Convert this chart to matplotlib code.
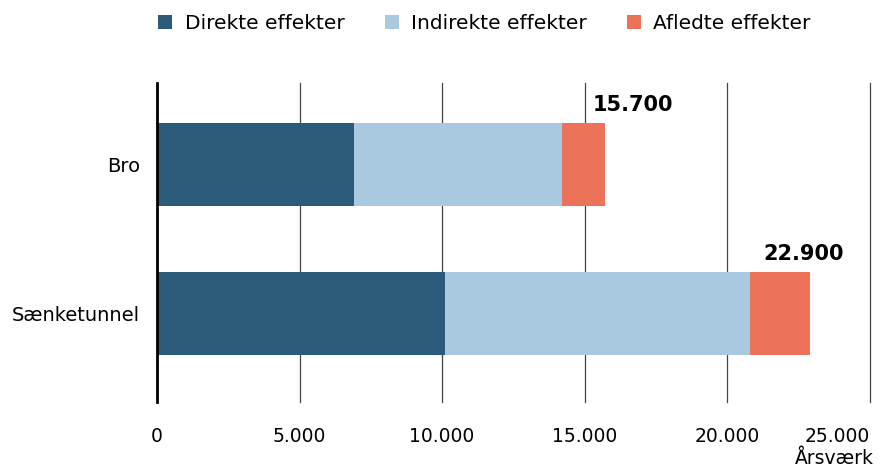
import matplotlib.pyplot as plt
from matplotlib.patches import Patch
from matplotlib.ticker import FuncFormatter

plt.rcParams['font.family'] = ['DejaVu Sans']

# Årsværk pr. løsning, fordelt på effekttype
losninger = ['Bro', 'Sænketunnel']
direkte = [6900, 10100]
indirekte = [7300, 10700]
afledte = [1500, 2100]
totaler = [15700, 22900]

serier = ['Direkte effekter', 'Indirekte effekter', 'Afledte effekter']
farver = ['#2b5a7a', '#a9c9e0', '#ec735a']

fig = plt.figure(figsize=(8.82, 4.74), dpi=100)
ax = fig.add_axes([0.178, 0.152, 0.808, 0.673])

y = range(len(losninger))
venstre = [0] * len(losninger)
for vals, farve in zip([direkte, indirekte, afledte], farver):
    ax.barh(y, vals, left=venstre, height=0.557, color=farve, zorder=2)
    venstre = [a + b for a, b in zip(venstre, vals)]

# totaler over søjlerne
forskyd = [1.0, -0.2]  # i tusinder, så teksten ikke rammer gitteret
for i, t in enumerate(totaler):
    ax.text(t + forskyd[i] * 1000, i - 0.33, f'{t:,}'.replace(',', '.'),
            ha='center', va='bottom', fontsize=15, fontweight='bold')

ax.set_xlim(0, 25000)
ax.set_ylim(1.594, -0.547)
ax.set_xticks(range(0, 25001, 5000))
ax.xaxis.set_major_formatter(FuncFormatter(lambda v, p: f'{int(v):,}'.replace(',', '.')))
ax.set_yticks(list(y))
ax.set_yticklabels(losninger)
ax.tick_params(axis='both', length=0, labelsize=13.5)
ax.tick_params(axis='y', pad=12, labelsize=14)
ax.tick_params(axis='x', pad=18)
ax.get_xticklabels()[-1].set_ha('right')
ax.grid(axis='x', color='#444444', linewidth=0.9, zorder=1)
for gl in ax.get_xgridlines():
    gl.set_clip_on(False)
for s in ['top', 'right', 'bottom']:
    ax.spines[s].set_visible(False)
ax.spines['left'].set_linewidth(2)
ax.spines['left'].set_zorder(3)

fig.text(0.991, 0.012, 'Årsværk', ha='right', va='bottom', fontsize=13.5)

handles = [Patch(facecolor=c, label=l) for c, l in zip(farver, serier)]
fig.legend(handles=handles, loc='upper left', bbox_to_anchor=(0.159, 1.008), ncol=3,
           frameon=False, fontsize=14.5, handlelength=0.7, handleheight=0.7,
           handletextpad=0.6, columnspacing=2.0)

fig.savefig('out.png', dpi=100)
